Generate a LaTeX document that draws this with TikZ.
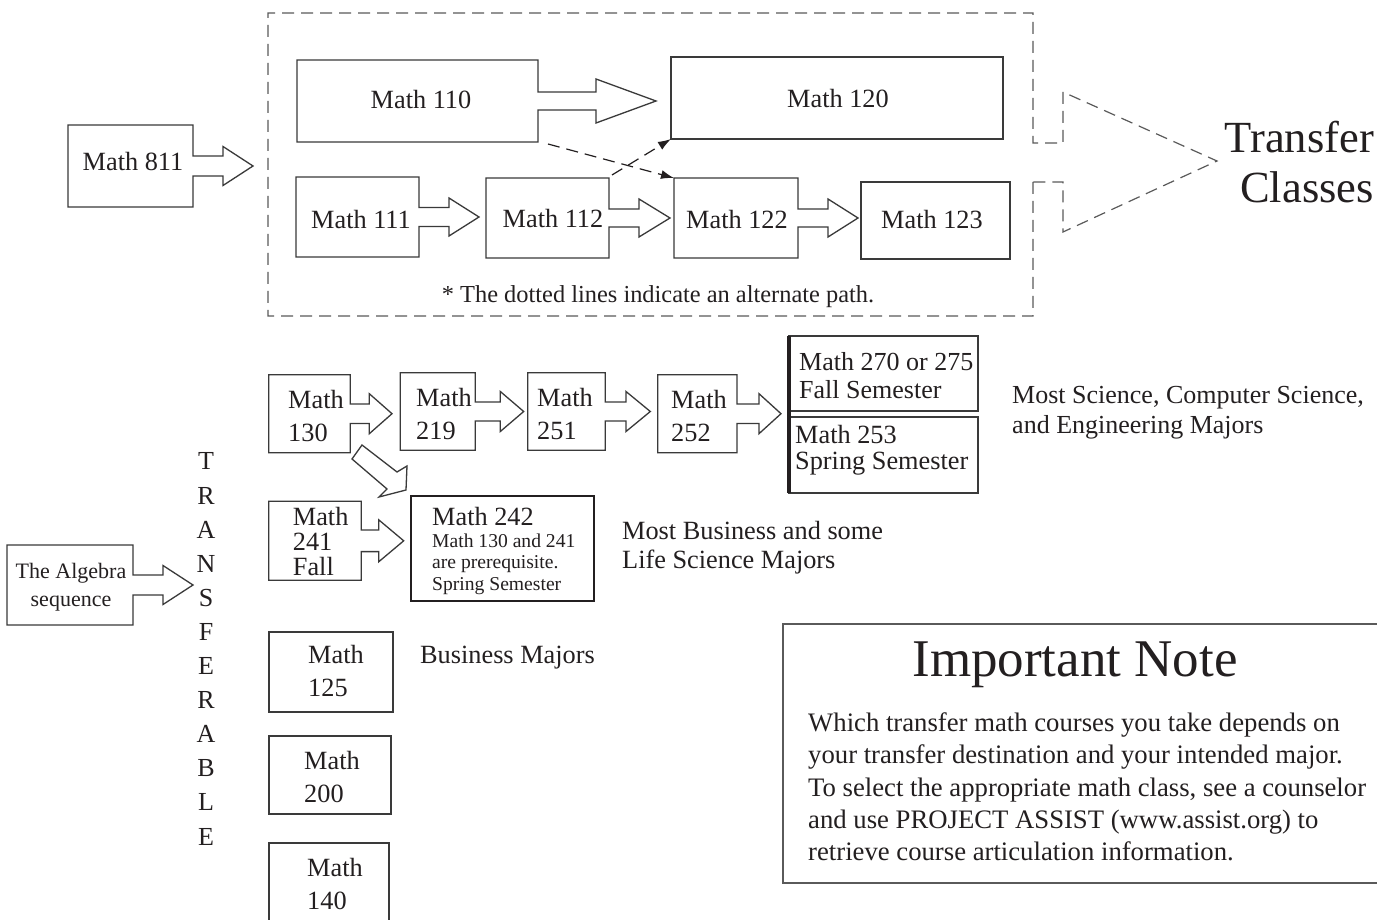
\documentclass[tikz,border=0pt]{standalone}
\usepackage{fontspec}
\setmainfont{Liberation Serif}
\usetikzlibrary{calc,arrows.meta}
\definecolor{ink}{HTML}{231F20}
\definecolor{edge}{HTML}{3A3A3A}
\definecolor{dashc}{HTML}{5A5A5A}
\newcommand\fs[2]{\fontsize{#1}{#2}\selectfont}
\newcommand\callout[5]{%
  \draw[ln] ($(#1.east)+(0,-#2)$) |- (#1.north west) |- (#1.south east)
    -- ($(#1.east)+(0,#2)$) -- ++(#3,0) -- ++(0,#4-#2)
    -- ($(#1.east)+(#3+#5,0)$) -- ($(#1.east)+(#3,-#4)$)
    -- ($(#1.east)+(#3,-#2)$) -- cycle;}
\tikzset{
  frame/.style={draw=none, inner sep=0pt, outer sep=0pt, anchor=north west},
  boxs/.style={draw=edge, line width=1.3pt, inner sep=0pt, outer sep=0pt, anchor=north west},
  ln/.style={draw=edge, line width=1.3pt, fill=white, line join=miter},
  txt/.style={text=ink, inner sep=0pt, font=\fs{26.3}{32.7}},
  small/.style={text=ink, inner sep=0pt, font=\fs{19.6}{21.6}, align=left},
  outerdash/.style={draw=dashc, line width=1.2pt, dash pattern=on 12pt off 7pt},
  alt/.style={draw=ink, line width=1.2pt, dash pattern=on 12pt off 7pt, -{Latex[length=13pt,width=9pt]}}
}
\begin{document}
\begin{tikzpicture}[x=1pt,y=-1pt]
\useasboundingbox (0,0) rectangle (1377,920);
\fill[white] (0,0) rectangle (1377,920);

% ---------- top dashed frame merged with "Transfer Classes" arrow
\draw[outerdash] (1033,182) -- (1033,316) -- (268,316) -- (268,13) -- (1033,13)
  -- (1033,143) -- (1063,143) -- (1063,92) -- (1217,161) -- (1063,232)
  -- (1063,182) -- cycle;
\node[txt, font=\fs{44.5}{50}, align=right, anchor=east] (transfer) at (1374,162) {Transfer\\Classes};

% ---------- Math 811
\node[frame, minimum width=125pt, minimum height=82pt] (m811) at (68,125) {};
\callout{m811}{10}{30}{19.5}{30}
\node[txt] (t811) at (133,162) {Math 811};

% ---------- Math 110 / 120
\node[frame, minimum width=241pt, minimum height=82pt] (m110) at (297,60) {};
\callout{m110}{9}{58}{22}{60}
\node[txt] (t110) at (421,100) {Math 110};
\node[boxs, minimum width=332pt, minimum height=82pt] (m120) at (671,57) {};
\node[txt] (t120) at (838,99) {Math 120};

% ---------- Math 111 -> 112 -> 122 -> 123
\node[frame, minimum width=123pt, minimum height=80pt] (m111) at (296,177) {};
\callout{m111}{9.5}{30}{19}{30}
\node[txt] (t111) at (361,220) {Math 111};
\node[frame, minimum width=123pt, minimum height=80pt] (m112) at (486,178) {};
\callout{m112}{9}{30}{19}{31}
\node[txt] (t112) at (553,219) {Math 112};
\node[frame, minimum width=124pt, minimum height=80pt] (m122) at (674,178) {};
\callout{m122}{9}{30}{19}{30}
\node[txt] (t122) at (737,220) {Math 122};
\node[boxs, minimum width=149pt, minimum height=77pt] (m123) at (861,182) {};
\node[txt] (t123) at (932,220) {Math 123};

% ---------- alternate paths
\coordinate (d1) at (548,144);
\coordinate (d2) at (612,175);
\draw[alt] (d1) -- (m122.north west);
\draw[alt] (d2) -- (m120.south west);
\node[txt, font=\fs{24.4}{28}] (note) at (658,297) {* The dotted lines indicate an alternate path.};

% ---------- second row
\node[frame, minimum width=81.6pt, minimum height=78pt] (m130) at (268.7,374.7) {};
\callout{m130}{9.7}{19}{20}{22.7}
\node[txt, align=left, anchor=west] (t130) at (288,416) {Math\\130};
\node[frame, minimum width=75pt, minimum height=77.6pt] (m219) at (400.3,372.7) {};
\callout{m219}{9.5}{25}{20}{23.4}
\node[txt, align=left, anchor=west] (t219) at (416,414) {Math\\219};
\node[frame, minimum width=77.6pt, minimum height=77.6pt] (m251) at (527.7,372.7) {};
\callout{m251}{9.5}{20.7}{20}{24.3}
\node[txt, align=left, anchor=west] (t251) at (537,414) {Math\\251};
\node[frame, minimum width=79.3pt, minimum height=78pt] (m252) at (657.7,374.7) {};
\callout{m252}{9.7}{22}{20}{22}
\node[txt, align=left, anchor=west] (t252) at (671,416) {Math\\252};

\node[boxs, minimum width=189pt, minimum height=75pt] (m270) at (789,336) {};
\node[boxs, minimum width=189pt, minimum height=76pt] (m253) at (789,417) {};
\draw[draw=ink, line width=3.5pt] (m270.north west) -- (m253.south west);
\node[txt, font=\fs{26}{28}, align=left, anchor=west] (t270) at (799,376) {Math 270 or 275\\Fall Semester};
\node[txt, font=\fs{26.3}{26}, align=left, anchor=west] (t253) at (795,450) {Math 253\\Spring Semester};
\node[txt, align=left, anchor=west, font=\fs{26}{30}] (sci) at (1012,413) {Most Science, Computer Science,\\and Engineering Majors};

% ---------- 130 -> 242 block arrow
\draw[ln] (362,445) -- (397,472) -- (407,466) -- (406,490) -- (379,497) -- (387,489) -- (352,459) -- cycle;

% ---------- Math 241 / 242
\node[frame, minimum width=92.6pt, minimum height=79pt] (m241) at (268.7,501.3) {};
\callout{m241}{10.8}{17.4}{21}{25}
\node[txt, align=left, anchor=west, font=\fs{26.3}{25}] (t241) at (292.7,542) {Math\\241\\Fall};
\node[boxs, draw=ink, line width=1.8pt, minimum width=182.7pt, minimum height=105.3pt] (m242) at (411,496) {};
\node[txt, anchor=west] (t242) at (432,517) {Math 242};
\node[small, anchor=west] (t242b) at (432,564) {Math 130 and 241\\are prerequisite.\\Spring Semester};
\node[txt, align=left, anchor=west, font=\fs{26.3}{29}] (bus) at (622,548) {Most Business and some\\Life Science Majors};

% ---------- Algebra sequence & TRANSFERABLE
\node[frame, minimum width=126pt, minimum height=80pt] (alg) at (7,545) {};
\callout{alg}{10}{30}{19.5}{30}
\node[txt, font=\fs{22}{28}, align=center] (talg) at (71,587) {The Algebra\\sequence};
\node[txt, align=center, font=\fs{26}{34.1}] (vt) at (206,649) {T\\R\\A\\N\\S\\F\\E\\R\\A\\B\\L\\E};

% ---------- Math 125 / 200 / 140
\node[boxs, minimum width=124pt, minimum height=80pt] (m125) at (269,632) {};
\node[txt, align=left, anchor=west] (t125) at (308,671) {Math\\125};
\node[txt, anchor=west] (busm) at (420,658) {Business Majors};
\node[boxs, minimum width=122pt, minimum height=78pt] (m200) at (269,736) {};
\node[txt, align=left, anchor=west] (t200) at (304,777) {Math\\200};
\coordinate (m140a) at (269,925);
\coordinate (m140b) at (269,843);
\coordinate (m140c) at (389,843);
\coordinate (m140d) at (389,925);
\draw[ln, fill=none] (m140a) -- (m140b) -- (m140c) -- (m140d);
\node[txt, align=left, anchor=west] (t140) at (307,884) {Math\\140};

% ---------- Important Note
\coordinate (n1) at (1380,624);
\coordinate (n2) at (783,624);
\coordinate (n3) at (783,883);
\coordinate (n4) at (1380,883);
\draw[ln, fill=none, line width=1.2pt, draw=dashc] (n1) -- (n2) -- (n3) -- (n4);
\node[txt, font=\fs{53}{56}] (imp) at (1075,665) {Important Note};
\node[txt, font=\fs{26.7}{32.3}, align=left, anchor=west] (impbody) at (808,787)
  {Which transfer math courses you take depends on\\your transfer destination and your intended major.\\To select the appropriate math class, see a counselor\\and use PROJECT ASSIST (www.assist.org) to\\retrieve course articulation information.};
\end{tikzpicture}
\end{document}
